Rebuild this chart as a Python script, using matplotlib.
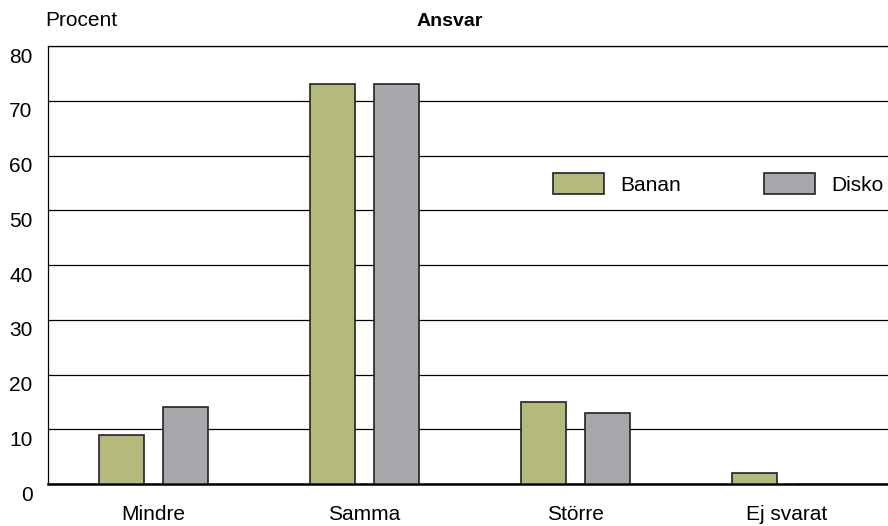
import numpy as np
import matplotlib
matplotlib.use("Agg")
import matplotlib.pyplot as plt
from matplotlib.transforms import ScaledTranslation

# data
categories = ["Mindre", "Samma", "Större", "Ej svarat"]
banan = [9, 73, 15, 2]
disko = [14, 73, 13, 0]
yticks = [0, 10, 20, 30, 40, 50, 60, 70, 80]

GREEN = "#b5ba7c"
GRAY = "#a7a8ac"
EDGE = "#222222"

plt.rcParams["font.family"] = ["Liberation Sans", "DejaVu Sans"]

fig = plt.figure(figsize=(8.88, 5.26), dpi=100)
ax = fig.add_axes([0.054, 0.0798, 0.9505, 0.8327])

x = np.arange(len(categories))
w = 0.214
ax.bar(x - 0.15, banan, w, color=GREEN, edgecolor=EDGE, linewidth=1.2, label="Banan", zorder=3)
ax.bar(x + 0.15, disko, w, color=GRAY, edgecolor=EDGE, linewidth=1.2, label="Disko", zorder=3)

ax.set_xlim(-0.5, len(categories) - 0.5)
ax.set_ylim(0, 80)
ax.set_yticks(yticks)
ax.set_xticks(x)
ax.set_xticklabels(categories)
ax.tick_params(axis="y", length=0, labelsize=15, pad=11)
ax.tick_params(axis="x", length=0, labelsize=15, pad=15)
ax.yaxis.grid(True, color="black", linewidth=0.9, zorder=0)

# y labels sit a bit below their gridlines in the original
off = ScaledTranslation(0, -6.5 / 72, fig.dpi_scale_trans)
for lab in ax.get_yticklabels():
    lab.set_transform(lab.get_transform() + off)

ax.spines["right"].set_visible(False)
ax.spines["top"].set_linewidth(0.9)
ax.spines["left"].set_linewidth(0.9)
ax.spines["bottom"].set_linewidth(1.8)

ax.legend(loc="center left", bbox_to_anchor=(0.598, 0.685), ncol=2, frameon=False,
          fontsize=15, handlelength=2.45, handleheight=1.15, handletextpad=0.77,
          columnspacing=4.0, borderaxespad=0, borderpad=0)

fig.text(45 / 888, 1 - 21 / 526, "Procent", fontsize=15, va="center", ha="left")
fig.text(450 / 888, 1 - 21 / 526, "Ansvar", fontsize=14, fontweight="bold",
         va="center", ha="center")

fig.savefig("out.png", dpi=100)
